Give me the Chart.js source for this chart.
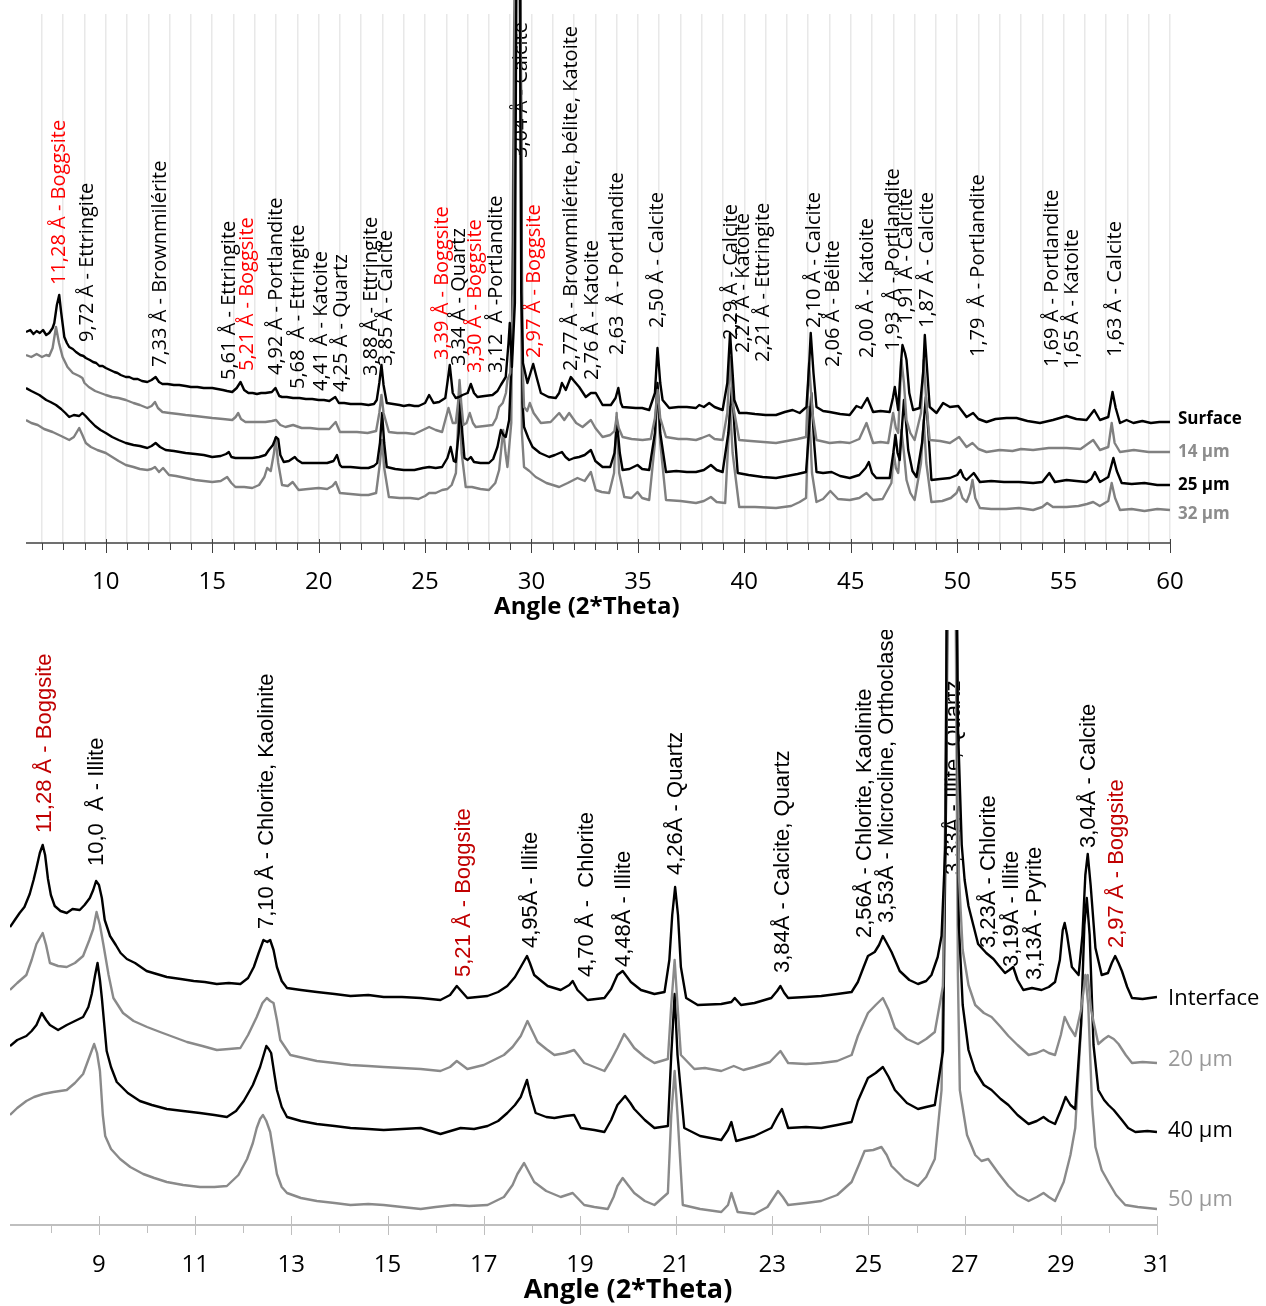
<!DOCTYPE html>
<html><head><meta charset="utf-8">
<script src="https://cdn.jsdelivr.net/npm/chart.js@4.4.1/dist/chart.umd.min.js"></script>
<style>
html,body{margin:0;padding:0;background:#fff;overflow:hidden;}
canvas{position:absolute;left:0;}
#c1{top:0;}
#c2{top:630px;}
</style></head><body>
<canvas id="c1" width="1266" height="630"></canvas>
<canvas id="c2" width="1266" height="676"></canvas>
<script>
// ---------------- TOP PANEL DATA (2θ, intensity a.u. incl. offset) ----------------
const topNames = ['Surface', '14 µm', '25 µm', '32 µm'];
const topSurface = [[6.25,211],[6.45,213],[6.6,209],[6.75,212],[6.9,210],[7.05,213],[7.2,208],[7.34,210],[7.5,215],[7.58,220],[7.7,238],[7.81,248],[7.9,231],[8.05,206],[8.17,200],[8.28,196],[8.45,194],[8.6,191],[8.8,188],[8.95,187],[9.06,185],[9.25,183],[9.4,181],[9.55,180],[9.7,177],[9.85,177],[10,175],[10.2,173],[10.4,171],[10.55,170],[10.7,168],[10.94,166],[11.1,166],[11.3,164],[11.5,164],[11.7,162],[11.95,161],[12.15,163],[12.34,166],[12.5,161],[12.66,159],[12.9,159],[13.2,158],[13.45,158],[13.75,157],[14.0,156],[14.3,156],[14.6,155],[15,155],[15.25,154],[15.5,153],[15.7,152],[15.94,151],[16.15,155],[16.33,161],[16.5,153],[16.7,150],[16.9,150],[17.1,149],[17.3,150],[17.5,150],[17.8,151],[17.97,155],[18.15,147],[18.28,146],[18.5,146],[18.8,145],[19.1,145],[19.4,144],[19.7,144],[20,143],[20.25,143],[20.5,142],[20.78,146],[20.95,140],[21.2,140],[21.5,139],[21.8,139],[22,139],[22.34,138],[22.6,139],[22.73,143],[22.85,160],[22.95,178],[23.05,158],[23.2,140],[23.5,139],[23.8,138],[24.0,137],[24.25,138],[24.5,137],[24.7,137],[25.0,140],[25.19,148],[25.4,140],[25.66,141],[25.95,145],[26.08,165],[26.16,178],[26.3,150],[26.44,145],[26.6,146],[26.76,148],[27.0,150],[27.15,159],[27.3,150],[27.46,146],[27.8,147],[28.17,148],[28.4,152],[28.56,158],[28.79,166],[28.92,200],[28.98,220],[29.08,176],[29.22,240],[29.32,700],[29.42,700],[29.52,250],[29.6,180],[29.81,160],[29.95,170],[30.08,179],[30.25,165],[30.44,150],[30.8,146],[31.14,145],[31.3,150],[31.43,160],[31.61,153],[31.85,166],[32.0,162],[32.24,156],[32.55,146],[32.79,150],[33.02,150],[33.34,138],[33.73,138],[33.95,145],[34.08,155],[34.2,140],[34.28,136],[34.9,135],[35.2,135],[35.53,133],[35.8,150],[35.92,195],[36.05,160],[36.16,143],[36.47,135],[36.9,136],[37.3,136],[37.73,135],[37.88,138],[38.1,136],[38.35,140],[38.6,136],[38.98,133],[39.2,160],[39.33,210],[39.45,170],[39.53,143],[39.76,130],[40.1,130],[40.5,129],[41.0,128],[41.49,128],[41.9,131],[42.27,133],[42.6,130],[42.92,136],[43.05,180],[43.12,210],[43.25,170],[43.39,136],[43.7,132],[44.01,131],[44.5,129],[44.95,128],[45.27,137],[45.5,135],[45.78,145],[46.05,131],[46.4,132],[46.83,131],[46.98,145],[47.07,156],[47.23,133],[47.36,180],[47.43,198],[47.55,190],[47.62,183],[47.75,150],[47.93,133],[48.24,135],[48.4,170],[48.48,208],[48.6,170],[48.71,136],[49.03,130],[49.34,140],[49.66,136],[50.05,137],[50.44,126],[50.75,130],[51.0,124],[51.38,121],[51.8,124],[52.32,125],[52.79,125],[53.3,122],[53.89,120],[54.5,123],[55.14,127],[55.6,124],[56.08,123],[56.44,133],[56.71,123],[57.1,126],[57.3,151],[57.45,135],[57.65,120],[57.96,123],[58.28,120],[58.7,122],[59.1,120],[59.5,121],[60,121]];
const top14 = [[6.25,188],[6.5,186],[6.75,189],[7.0,186],[7.2,188],[7.34,187],[7.5,195],[7.66,216],[7.8,200],[7.97,186],[8.2,176],[8.45,170],[8.75,167],[8.9,165],[9.0,160],[9.2,156],[9.5,152],[9.75,150],[10,148],[10.3,146],[10.6,145],[10.94,143],[11.3,140],[11.6,138],[11.95,135],[12.15,137],[12.31,141],[12.45,135],[12.66,131],[13.0,130],[13.4,129],[13.75,128],[14.2,127],[14.6,126],[15,125],[15.5,124],[15.94,123],[16.1,126],[16.22,130],[16.35,124],[16.56,121],[17.0,121],[17.5,121],[17.8,122],[18.0,123],[18.2,118],[18.44,116],[18.8,118],[19.2,115],[19.6,115],[20,114],[20.5,114],[20.8,121],[21.0,111],[21.4,111],[21.8,111],[22.3,110],[22.7,112],[22.85,130],[22.95,148],[23.05,130],[23.3,111],[23.7,110],[24.1,110],[24.5,109],[24.8,112],[25.19,116],[25.5,113],[25.8,111],[26.1,135],[26.3,120],[26.44,120],[26.55,140],[26.62,163],[26.7,140],[26.8,118],[26.95,120],[27.1,130],[27.25,120],[27.38,116],[27.8,117],[28.17,118],[28.35,125],[28.48,136],[28.65,140],[28.8,150],[28.87,163],[29.0,170],[29.15,250],[29.28,700],[29.45,700],[29.55,200],[29.65,136],[29.8,132],[29.92,140],[30.1,130],[30.44,120],[30.9,121],[31.3,130],[31.54,123],[31.77,130],[32.1,120],[32.4,116],[32.79,123],[33.0,115],[33.34,106],[33.7,108],[33.9,112],[34.0,126],[34.1,115],[34.28,106],[34.7,104],[35.22,103],[35.6,104],[35.8,125],[35.92,153],[36.05,125],[36.32,106],[36.9,104],[37.3,104],[37.73,103],[38.0,105],[38.35,108],[38.6,104],[38.98,103],[39.2,130],[39.33,186],[39.45,140],[39.76,103],[40.3,102],[40.9,101],[41.49,100],[42.0,102],[42.5,104],[42.9,106],[43.04,180],[43.2,130],[43.39,103],[44.01,100],[44.5,101],[44.95,100],[45.4,104],[45.74,120],[46.05,100],[46.4,101],[46.76,100],[46.99,130],[47.12,115],[47.23,110],[47.38,183],[47.5,160],[47.62,123],[47.8,110],[48.0,103],[48.3,130],[48.43,183],[48.55,140],[48.71,103],[49.2,102],[49.66,100],[50.09,106],[50.44,96],[50.72,100],[51.0,94],[51.38,91],[52.0,93],[52.6,92],[53.0,94],[53.57,93],[54.3,95],[55.14,95],[55.8,94],[56.39,103],[56.71,93],[57.1,96],[57.26,120],[57.4,100],[57.65,91],[58.3,93],[59,91],[60,91]];
const top25 = [[6.25,155],[6.5,152],[6.875,148],[7.2,143],[7.4,141],[7.66,138],[7.9,134],[8.1,130],[8.28,126],[8.5,128],[8.75,127],[8.9,130],[9.05,127],[9.22,123],[9.5,117],[9.75,113],[10,110],[10.3,106],[10.6,103],[10.94,100],[11.3,98],[11.6,97],[11.95,95],[12.15,97],[12.34,100],[12.55,96],[12.81,93],[13.2,92],[13.75,90],[14.2,89],[14.6,88],[15.0,86],[15.4,87],[15.65,89],[15.78,91],[15.9,86],[16.09,85],[16.5,85],[16.88,85],[17.2,86],[17.5,88],[17.66,93],[17.85,98],[18.0,106],[18.1,104],[18.2,88],[18.36,81],[18.6,82],[18.88,86],[19.0,83],[19.22,80],[19.6,80],[20.0,80],[20.4,80],[20.7,82],[20.86,88],[21.0,78],[21.09,76],[21.5,76],[22.0,75],[22.34,75],[22.6,77],[22.75,80],[22.88,100],[22.98,130],[23.08,100],[23.2,76],[23.6,74],[24.0,73],[24.5,73],[24.9,75],[25.19,76],[25.5,75],[25.8,76],[26.05,85],[26.2,96],[26.35,82],[26.44,81],[26.58,110],[26.66,143],[26.75,110],[26.85,85],[27.0,83],[27.15,86],[27.3,81],[27.6,80],[28.0,80],[28.2,84],[28.4,96],[28.56,113],[28.68,108],[28.79,106],[28.95,123],[29.1,200],[29.3,700],[29.45,700],[29.58,140],[29.65,116],[29.85,105],[30.05,96],[30.4,90],[30.83,86],[31.1,88],[31.43,91],[31.6,86],[31.77,83],[32.0,85],[32.24,86],[32.5,88],[32.79,93],[33.0,82],[33.34,76],[33.7,76],[33.9,90],[34.02,120],[34.15,90],[34.28,73],[34.6,74],[34.98,78],[35.2,74],[35.53,73],[35.8,110],[35.92,160],[36.05,110],[36.32,71],[36.8,72],[37.3,71],[37.73,71],[38.1,73],[38.43,78],[38.7,73],[38.98,71],[39.25,110],[39.42,156],[39.55,110],[39.69,70],[40.2,68],[40.86,66],[41.49,65],[42.0,67],[42.5,69],[42.9,71],[43.0,100],[43.15,150],[43.28,100],[43.39,71],[43.7,70],[44.1,71],[44.5,67],[44.95,65],[45.4,68],[45.7,75],[45.85,81],[46.0,70],[46.2,65],[46.83,65],[47.0,90],[47.1,108],[47.2,90],[47.3,83],[47.42,120],[47.5,143],[47.6,120],[47.7,93],[47.9,72],[48.09,66],[48.35,100],[48.53,146],[48.65,110],[48.79,63],[49.2,64],[49.66,65],[50.0,68],[50.16,73],[50.3,66],[50.44,63],[50.78,70],[51.07,61],[51.6,62],[52.2,61],[52.9,61],[53.57,60],[54.0,61],[54.33,70],[54.59,61],[55.14,63],[55.6,62],[56.08,61],[56.3,64],[56.47,71],[56.71,61],[57.1,66],[57.34,85],[57.5,72],[57.73,60],[58.2,59],[58.8,60],[59.4,58],[60,58]];
const top32 = [[6.25,123],[6.5,120],[6.8,118],[7.1,114],[7.5,111],[7.9,107],[8.28,103],[8.5,106],[8.75,115],[8.9,108],[9.06,100],[9.3,96],[9.6,93],[10,90],[10.3,86],[10.6,82],[10.94,78],[11.3,76],[11.6,74],[11.95,73],[12.15,74],[12.31,76],[12.5,71],[12.69,75],[12.97,68],[13.3,67],[13.75,65],[14.2,63],[14.6,62],[15.0,61],[15.4,62],[15.7,66],[15.9,60],[16.09,56],[16.5,56],[16.88,55],[17.2,58],[17.45,66],[17.58,75],[17.75,72],[17.9,90],[17.97,105],[18.1,80],[18.28,58],[18.55,57],[18.78,61],[19.06,53],[19.5,54],[20.0,55],[20.4,54],[20.65,57],[20.8,61],[21.0,50],[21.5,49],[22.0,48],[22.34,48],[22.7,50],[22.88,80],[22.98,103],[23.08,75],[23.3,46],[23.8,45],[24.3,45],[24.69,44],[25.0,47],[25.19,50],[25.5,50],[25.8,53],[26.05,54],[26.25,58],[26.45,70],[26.6,143],[26.72,90],[26.91,56],[27.2,56],[27.6,54],[28.0,53],[28.3,60],[28.48,73],[28.67,113],[28.78,90],[28.87,76],[29.05,120],[29.25,700],[29.45,700],[29.55,110],[29.65,76],[29.9,72],[30.2,66],[30.7,60],[31.3,56],[31.7,60],[32.16,65],[32.5,62],[32.79,71],[33.02,53],[33.3,51],[33.65,50],[33.88,70],[34.0,130],[34.12,70],[34.36,46],[34.7,45],[34.98,51],[35.2,45],[35.53,43],[35.8,100],[35.92,156],[36.05,100],[36.32,43],[37.0,42],[37.73,40],[38.1,42],[38.43,46],[38.7,41],[39.1,40],[39.22,90],[39.33,136],[39.45,90],[39.76,36],[40.5,36],[41.49,35],[42.2,37],[42.6,41],[42.9,45],[43.04,136],[43.18,70],[43.39,41],[43.7,44],[44.04,52],[44.4,44],[44.95,43],[45.4,45],[45.74,50],[46.05,43],[46.5,44],[46.91,60],[47.02,90],[47.12,75],[47.23,70],[47.38,113],[47.5,90],[47.62,63],[47.8,50],[48.0,43],[48.3,80],[48.43,123],[48.55,80],[48.79,41],[49.3,42],[49.7,45],[49.97,50],[50.09,56],[50.25,45],[50.44,41],[50.6,50],[50.72,63],[50.85,45],[51.07,35],[51.6,34],[52.3,34],[52.9,35],[53.57,33],[54.0,36],[54.23,40],[54.5,36],[55.14,36],[55.7,37],[56.1,39],[56.39,41],[56.7,37],[57.1,42],[57.26,60],[57.42,45],[57.65,33],[58.2,34],[58.8,32],[59.4,34],[60,33]];

const topPeakText = ["11,28 Å - Boggsite","9,72 Å - Ettringite","7,33 Å - Brownmilérite","5,61 Å - Ettringite","5,21 Å - Boggsite","4,92 Å - Portlandite","5,68  Å - Ettringite","4,41 Å - Katoite","4,25 Å - Quartz","3,88 Å - Ettringite","3,85 Å - Calcite","3,39 Å - Boggsite","3,34 Å - Quartz","3,30 Å - Boggsite","3,12  Å -Portlandite","3,04 Å - Calcite","2,97 Å - Boggsite","2,77 Å - Brownmilérite, bélite, Katoite","2,76 Å - Katoite","2,63  Å - Portlandite","2,50 Å - Calcite","2,29 Å - Calcite","2,27 Å - Katoite","2,21 Å - Ettringite","2,10 Å - Calcite","2,06 Å - Bélite","2,00 Å - Katoite","1,93  Å - Portlandite","1,91 Å - Calcite","1,87 Å - Calcite","1,79  Å - Portlandite","1,69 Å - Portlandite","1,65 Å - Katoite","1,63 Å - Calcite"];
const topPeakAngle = [7.83,9.15,12.58,15.82,16.67,18.03,19.06,20.14,21.08,22.49,23.2,25.83,26.63,27.38,28.37,29.54,30.15,31.89,32.88,34.01,35.93,39.41,39.93,40.87,43.31,44.16,45.8,47.02,47.63,48.58,50.97,54.45,55.39,57.41];
const topPeakLevel = [258,201,176,163,172,168,154,152,151,167,177,183,177,170,170,385,185,172,163,188,215,203,190,181,215,176,185,192,219,215,186,176,174,186];
const topTickLabels = [10,15,20,25,30,35,40,45,50,55,60];

// ---------------- BOTTOM PANEL DATA ----------------
const bottomNames = ['Interface', '20 µm', '40 µm', '50 µm'];
const botInterface = [[7.15,298],[7.25,305],[7.35,312],[7.45,318],[7.56,331],[7.64,345],[7.7,357],[7.77,372],[7.83,380],[7.88,370],[7.94,346],[8.0,330],[8.08,319],[8.2,314],[8.33,312],[8.45,316],[8.6,315],[8.7,320],[8.81,327],[8.88,335],[8.94,344],[9.0,340],[9.06,327],[9.12,305],[9.23,289],[9.35,280],[9.45,272],[9.58,266],[9.75,262],[9.99,254],[10.2,251],[10.41,248],[10.7,246],[10.97,244],[11.2,243],[11.45,241],[11.7,242],[11.94,241],[12.1,247],[12.22,258],[12.32,272],[12.42,285],[12.5,283],[12.56,285],[12.63,275],[12.7,258],[12.8,244],[12.91,237],[13.2,235],[13.53,233],[13.9,231],[14.23,229],[14.6,230],[14.92,228],[15.3,228],[15.69,227],[16.1,225],[16.3,230],[16.44,239],[16.55,233],[16.66,227],[17.08,229],[17.3,233],[17.49,239],[17.65,248],[17.77,258],[17.9,269],[17.96,262],[18.05,250],[18.2,244],[18.33,239],[18.6,235],[18.78,240],[18.85,244],[18.95,235],[19.16,225],[19.51,227],[19.65,236],[19.78,250],[19.89,254],[20.06,243],[20.27,235],[20.55,231],[20.76,233],[20.86,265],[20.92,310],[20.98,338],[21.04,310],[21.1,258],[21.21,227],[21.45,220],[21.94,221],[22.15,223],[22.22,227],[22.35,220],[22.63,222],[22.98,227],[23.1,234],[23.17,239],[23.25,232],[23.33,227],[23.7,228],[24.02,229],[24.35,231],[24.65,233],[24.78,243],[24.9,258],[24.99,269],[25.13,273],[25.22,280],[25.3,289],[25.38,282],[25.48,273],[25.65,254],[25.85,245],[26.03,241],[26.2,244],[26.31,250],[26.44,268],[26.52,289],[26.6,380],[26.66,900],[26.78,900],[26.86,500],[26.94,380],[27.0,345],[27.08,319],[27.18,300],[27.28,281],[27.45,272],[27.6,266],[27.7,260],[27.84,252],[27.93,255],[28.01,258],[28.1,245],[28.22,235],[28.4,237],[28.6,235],[28.75,238],[28.88,243],[28.98,265],[29.04,295],[29.08,302],[29.13,290],[29.23,258],[29.37,250],[29.45,290],[29.51,350],[29.56,371],[29.62,340],[29.72,277],[29.85,250],[29.98,252],[30.06,262],[30.13,269],[30.2,262],[30.27,254],[30.38,238],[30.48,227],[30.7,226],[31.0,228]];
const bot20 = [[7.15,235],[7.3,242],[7.49,250],[7.6,265],[7.7,281],[7.83,292],[7.9,280],[7.98,262],[8.15,259],[8.33,258],[8.5,262],[8.67,269],[8.8,285],[8.88,296],[8.95,313],[9.02,300],[9.09,281],[9.2,250],[9.3,227],[9.5,212],[9.72,204],[10.0,198],[10.27,193],[10.55,188],[10.83,183],[11.15,179],[11.45,175],[11.7,176],[11.94,177],[12.1,190],[12.28,208],[12.4,222],[12.49,227],[12.56,224],[12.63,222],[12.7,205],[12.77,185],[12.98,170],[13.25,167],[13.53,164],[13.9,162],[14.23,160],[14.6,159],[14.92,158],[15.3,157],[15.69,156],[16.1,154],[16.3,158],[16.44,164],[16.55,160],[16.66,156],[17.0,160],[17.42,170],[17.6,178],[17.77,189],[17.91,204],[18.0,195],[18.12,183],[18.3,176],[18.47,170],[18.7,172],[18.88,175],[19.09,162],[19.3,158],[19.51,154],[19.65,165],[19.78,177],[19.92,191],[20.0,186],[20.13,177],[20.35,168],[20.55,162],[20.83,166],[20.9,220],[20.97,265],[21.03,220],[21.1,170],[21.38,156],[21.6,157],[21.94,154],[22.2,159],[22.4,155],[22.63,158],[22.95,163],[23.17,174],[23.33,162],[23.7,161],[24.02,162],[24.35,164],[24.65,170],[24.78,189],[24.99,212],[25.15,220],[25.3,227],[25.42,215],[25.55,197],[25.8,186],[26.03,181],[26.2,186],[26.38,193],[26.55,239],[26.62,500],[26.68,900],[26.8,900],[26.88,350],[26.96,275],[27.08,240],[27.22,220],[27.4,212],[27.56,208],[27.75,198],[27.91,189],[28.1,180],[28.33,170],[28.5,172],[28.64,175],[28.75,172],[28.88,170],[29.0,190],[29.08,208],[29.18,198],[29.3,189],[29.42,215],[29.5,245],[29.56,250],[29.63,215],[29.78,181],[29.9,186],[29.99,189],[30.1,186],[30.2,181],[30.35,170],[30.48,162],[30.7,163],[31.0,162]];
const bot40 = [[7.15,179],[7.3,185],[7.49,189],[7.6,194],[7.7,200],[7.81,212],[7.9,205],[7.98,200],[8.15,195],[8.33,200],[8.5,204],[8.67,208],[8.78,218],[8.85,231],[8.92,250],[8.97,262],[9.02,245],[9.06,227],[9.16,174],[9.25,158],[9.37,143],[9.6,132],[9.85,124],[10.1,120],[10.41,116],[10.75,114],[11.1,112],[11.4,110],[11.66,108],[11.85,114],[12.01,124],[12.2,140],[12.35,158],[12.48,179],[12.53,176],[12.58,172],[12.65,150],[12.7,135],[12.8,118],[12.91,108],[13.2,104],[13.53,101],[13.9,99],[14.23,97],[14.6,96],[14.92,95],[15.3,96],[15.69,97],[16.1,91],[16.52,97],[16.8,96],[17.08,99],[17.3,104],[17.49,112],[17.65,120],[17.77,128],[17.9,145],[17.97,130],[18.08,112],[18.3,108],[18.47,107],[18.7,109],[18.88,110],[19.02,97],[19.3,95],[19.51,93],[19.65,105],[19.78,120],[19.94,129],[20.05,122],[20.13,116],[20.35,105],[20.55,97],[20.83,99],[20.9,170],[20.97,231],[21.03,170],[21.17,97],[21.5,89],[21.94,85],[22.08,95],[22.15,103],[22.25,84],[22.63,89],[22.98,97],[23.1,108],[23.2,116],[23.33,97],[23.7,98],[24.02,97],[24.35,100],[24.65,103],[24.78,124],[24.99,147],[25.15,152],[25.3,158],[25.42,148],[25.55,135],[25.8,122],[26.03,116],[26.2,118],[26.38,120],[26.55,174],[26.62,450],[26.68,900],[26.8,900],[26.88,300],[26.96,220],[27.08,175],[27.22,154],[27.4,140],[27.56,135],[27.75,126],[27.91,120],[28.1,110],[28.33,101],[28.5,104],[28.64,108],[28.75,104],[28.88,101],[29.0,115],[29.1,128],[29.2,120],[29.3,116],[29.42,200],[29.49,300],[29.54,327],[29.6,290],[29.68,180],[29.78,135],[29.9,125],[29.99,120],[30.1,115],[30.27,105],[30.4,97],[30.55,93],[30.8,94],[31.0,93]];
const bot50 = [[7.15,110],[7.3,117],[7.49,124],[7.65,128],[7.84,131],[8.05,133],[8.33,135],[8.5,142],[8.67,151],[8.8,168],[8.9,181],[8.96,172],[9.02,154],[9.08,110],[9.13,89],[9.25,76],[9.44,66],[9.65,58],[9.92,51],[10.15,47],[10.41,43],[10.75,40],[11.1,38],[11.4,38],[11.66,39],[11.9,50],[12.08,66],[12.2,82],[12.28,97],[12.35,106],[12.41,110],[12.48,104],[12.56,93],[12.62,75],[12.7,51],[12.8,38],[12.91,32],[13.2,27],[13.53,24],[13.9,22],[14.23,20],[14.6,21],[14.92,20],[15.3,18],[15.69,16],[16.0,18],[16.38,20],[16.7,19],[17.08,20],[17.42,28],[17.6,40],[17.7,51],[17.84,62],[17.95,52],[18.05,43],[18.3,34],[18.6,28],[18.85,32],[19.09,20],[19.3,18],[19.58,16],[19.7,28],[19.78,39],[19.89,47],[20.0,40],[20.13,32],[20.35,24],[20.55,20],[20.83,32],[20.9,110],[20.97,154],[21.03,110],[21.14,20],[21.5,16],[21.94,13],[22.08,20],[22.15,32],[22.28,13],[22.63,11],[22.9,18],[23.12,34],[23.22,28],[23.33,20],[23.7,22],[24.02,24],[24.35,30],[24.65,43],[24.8,60],[24.92,74],[25.1,75],[25.27,78],[25.38,70],[25.48,59],[25.75,46],[26.03,39],[26.2,48],[26.38,66],[26.52,135],[26.6,400],[26.66,900],[26.78,900],[26.86,250],[26.9,135],[27.05,90],[27.22,70],[27.35,64],[27.49,66],[27.7,52],[27.91,39],[28.1,30],[28.33,24],[28.5,28],[28.64,32],[28.75,28],[28.88,24],[29.06,43],[29.2,70],[29.3,97],[29.4,180],[29.47,240],[29.51,250],[29.57,220],[29.65,120],[29.72,78],[29.85,55],[29.99,43],[30.15,30],[30.34,20],[30.6,18],[30.8,17],[31.0,16]];

const bottomPeakText = ["11,28 Å - Boggsite","10,0  Å - Illite","7,10 Å - Chlorite, Kaolinite","5,21 Å - Boggsite","4,95Å - Illite","4,70 Å -  Chlorite","4,48Å - Illite","4,26Å - Quartz","3,84Å - Calcite, Quartz","2,56Å - Chlorite, Kaolinite","3,53Å - Microcline, Orthoclase","3,33Å - Illite, Quartz","3,23Å - Chlorite","3,19Å - Illite","3,13Å - Pyrite","3,04Å - Calcite","2,97 Å - Boggsite"];
const bottomPeakAngle = [7.875,8.96,12.5,16.58,17.98,19.15,19.92,21.0,23.23,24.92,25.375,26.77,27.5,27.98,28.46,29.58,30.17];
const bottomPeakLevel = [392,359,296,248,277,248,258,350,252,287,302,350,277,258,245,377,277];
const bottomTickLabels = [9,11,13,15,17,19,21,23,25,27,29,31];

const axisTitle = 'Angle (2*Theta)';

// ---------------- RENDERING ----------------
function toXY(arr) { return arr.map(p => ({x: p[0], y: p[1]})); }

function makePanel(id, cfg) {
  const datasets = cfg.series.map((s, i) => ({
    label: cfg.names[i],
    data: toXY(s),
    borderColor: cfg.colors[i],
    borderWidth: cfg.lineWidth,
    pointRadius: 0,
    tension: 0,
    fill: false,
    borderJoinStyle: 'round',
    clip: {left: 0, top: cfg.padT, right: 0, bottom: 0}
  }));
  const decor = {
    id: 'decor_' + id,
    beforeDatasetsDraw(chart) {
      const ctx = chart.ctx, xs = chart.scales.x, ys = chart.scales.y;
      ctx.save();
      ctx.font = cfg.peakFont;
      ctx.textAlign = 'left';
      ctx.textBaseline = 'middle';
      cfg.peakText.forEach((t, i) => {
        const px = xs.getPixelForValue(cfg.peakAngle[i]);
        const py = ys.getPixelForValue(cfg.peakLevel[i]);
        ctx.save();
        ctx.translate(px, py);
        ctx.rotate(-Math.PI / 2);
        ctx.fillStyle = t.indexOf('Boggsite') >= 0 ? cfg.redColor : '#000';
        ctx.fillText(t, 0, 0);
        ctx.restore();
      });
      ctx.restore();
    },
    afterDraw(chart) {
      const ctx = chart.ctx, xs = chart.scales.x, ys = chart.scales.y, ca = chart.chartArea;
      ctx.save();
      // axis line
      ctx.strokeStyle = cfg.axisColor;
      ctx.lineWidth = cfg.axisWidth;
      ctx.beginPath();
      ctx.moveTo(ca.left, ca.bottom);
      ctx.lineTo(ca.right, ca.bottom);
      ctx.stroke();
      // tick marks
      ctx.lineWidth = 1;
      for (let v = Math.ceil(cfg.xMin); v <= cfg.xMax; v++) {
        const px = Math.round(xs.getPixelForValue(v)) + 0.5;
        const major = cfg.tickLabels.indexOf(v) >= 0;
        ctx.beginPath();
        ctx.moveTo(px, ca.bottom - (major ? cfg.majorUp : 0));
        ctx.lineTo(px, ca.bottom + (major ? cfg.majorDown : cfg.minorDown));
        ctx.stroke();
      }
      // tick labels
      ctx.fillStyle = '#000';
      ctx.font = cfg.tickFont;
      ctx.textAlign = 'center';
      ctx.textBaseline = 'middle';
      cfg.tickLabels.forEach(v => ctx.fillText(String(v), xs.getPixelForValue(v), ca.bottom + cfg.tickLabelDy));
      // axis title
      ctx.font = cfg.titleFont;
      ctx.fillText(axisTitle, xs.getPixelForValue(cfg.titleAt), ca.bottom + cfg.titleDy);
      // series names at end of curves
      ctx.textAlign = 'left';
      chart.data.datasets.forEach((ds, i) => {
        const last = ds.data[ds.data.length - 1];
        ctx.font = cfg.nameFont;
        ctx.fillStyle = cfg.nameColors[i];
        ctx.fillText(cfg.names[i], ca.right + cfg.nameDx, ys.getPixelForValue(last.y) + cfg.nameDy[i]);
      });
      ctx.restore();
    }
  };
  return new Chart(document.getElementById(id), {
    type: 'line',
    data: {datasets},
    options: {
      responsive: false,
      animation: false,
      events: [],
      layout: {padding: {left: cfg.padL, right: cfg.padR, top: cfg.padT, bottom: 0}},
      plugins: {legend: {display: false}, tooltip: {enabled: false}},
      scales: {
        x: {
          type: 'linear', min: cfg.xMin, max: cfg.xMax,
          afterFit: s => { s.height = cfg.axisH; s.paddingLeft = 0; s.paddingRight = 0; },
          ticks: {display: false, stepSize: 1, includeBounds: false, autoSkip: false},
          grid: {display: cfg.grid, drawTicks: false, color: '#e8e8e8', lineWidth: 1.5},
          border: {display: false}
        },
        y: {display: false, min: 0, max: cfg.yMax}
      }
    },
    plugins: [decor]
  });
}

makePanel('c1', {
  series: [topSurface, top14, top25, top32],
  names: topNames,
  colors: ['#000000', '#808080', '#000000', '#808080'],
  nameColors: ['#000000', '#8c8c8c', '#000000', '#8c8c8c'],
  nameFont: 'bold 17px "Open Sans"',
  nameDx: 8, nameDy: [-3, 0, 0, 4],
  lineWidth: 2.4,
  padL: 26, padR: 96, padT: 14, axisH: 87, yMax: 529,
  xMin: 6.25, xMax: 60, grid: true,
  axisColor: '#404040', axisWidth: 1.5, majorUp: 4, majorDown: 10, minorDown: 7,
  tickLabels: topTickLabels, tickFont: '24px "Open Sans"', tickLabelDy: 39,
  titleFont: 'bold 24px "Open Sans"', titleDy: 64, titleAt: 32.6,
  peakText: topPeakText, peakAngle: topPeakAngle, peakLevel: topPeakLevel,
  peakFont: '20px "Open Sans"', redColor: '#ff0000'
});

makePanel('c2', {
  series: [botInterface, bot20, bot40, bot50],
  names: bottomNames,
  colors: ['#000000', '#8a8a8a', '#000000', '#8a8a8a'],
  nameColors: ['#000000', '#999999', '#000000', '#999999'],
  nameFont: '22px "Open Sans"',
  nameDx: 11, nameDy: [2, -3, -1, -9],
  lineWidth: 2.4,
  padL: 10, padR: 109, padT: 5, axisH: 81, yMax: 590,
  xMin: 7.15, xMax: 31, grid: false,
  axisColor: '#bfbfbf', axisWidth: 2, majorUp: 9, majorDown: 10, minorDown: 8,
  tickLabels: bottomTickLabels, tickFont: '24px "Open Sans"', tickLabelDy: 40,
  titleFont: 'bold 27px "Open Sans"', titleDy: 65, titleAt: 20,
  peakText: bottomPeakText, peakAngle: bottomPeakAngle, peakLevel: bottomPeakLevel,
  peakFont: '22px "Liberation Sans"', redColor: '#c00000'
});
</script></body></html>
